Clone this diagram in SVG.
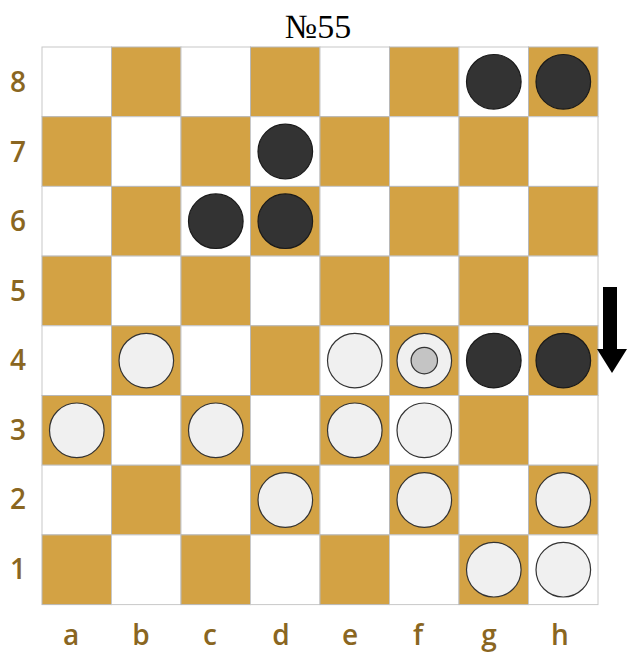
<svg xmlns="http://www.w3.org/2000/svg" width="627" height="653" viewBox="0 0 627 653">
<style>
.l{fill:#ffffff;stroke:#c8c8c8;stroke-width:1}
.d{fill:#D3A244;stroke:#b8b8b8;stroke-width:1}
.b{fill:#333333;stroke:#1a1a1a;stroke-width:1.2}
.w{fill:#f0f0f0;stroke:#333333;stroke-width:1.2}
.i{fill:#c4c4c4;stroke:#333333;stroke-width:1.2}
.lab{font-family:"Open Sans","DejaVu Sans",sans-serif;font-weight:600;font-size:28px;fill:#8A6621;text-anchor:middle}
.t{font-family:"Liberation Serif","Times New Roman",serif;font-size:34px;fill:#000;text-anchor:middle}
</style>
<rect width="627" height="653" fill="#ffffff"/>
<text class="t" x="318" y="38">№55</text>
<g id="board">
<rect class="l" x="42" y="47" width="69.5" height="69.7"/><rect class="d" x="111.5" y="47" width="69.5" height="69.7"/><rect class="l" x="181" y="47" width="69.5" height="69.7"/><rect class="d" x="250.5" y="47" width="69.5" height="69.7"/><rect class="l" x="320" y="47" width="69.5" height="69.7"/><rect class="d" x="389.5" y="47" width="69.5" height="69.7"/><rect class="l" x="459" y="47" width="69.5" height="69.7"/><rect class="d" x="528.5" y="47" width="69.5" height="69.7"/>
<rect class="d" x="42" y="116.7" width="69.5" height="69.7"/><rect class="l" x="111.5" y="116.7" width="69.5" height="69.7"/><rect class="d" x="181" y="116.7" width="69.5" height="69.7"/><rect class="l" x="250.5" y="116.7" width="69.5" height="69.7"/><rect class="d" x="320" y="116.7" width="69.5" height="69.7"/><rect class="l" x="389.5" y="116.7" width="69.5" height="69.7"/><rect class="d" x="459" y="116.7" width="69.5" height="69.7"/><rect class="l" x="528.5" y="116.7" width="69.5" height="69.7"/>
<rect class="l" x="42" y="186.4" width="69.5" height="69.7"/><rect class="d" x="111.5" y="186.4" width="69.5" height="69.7"/><rect class="l" x="181" y="186.4" width="69.5" height="69.7"/><rect class="d" x="250.5" y="186.4" width="69.5" height="69.7"/><rect class="l" x="320" y="186.4" width="69.5" height="69.7"/><rect class="d" x="389.5" y="186.4" width="69.5" height="69.7"/><rect class="l" x="459" y="186.4" width="69.5" height="69.7"/><rect class="d" x="528.5" y="186.4" width="69.5" height="69.7"/>
<rect class="d" x="42" y="256.1" width="69.5" height="69.7"/><rect class="l" x="111.5" y="256.1" width="69.5" height="69.7"/><rect class="d" x="181" y="256.1" width="69.5" height="69.7"/><rect class="l" x="250.5" y="256.1" width="69.5" height="69.7"/><rect class="d" x="320" y="256.1" width="69.5" height="69.7"/><rect class="l" x="389.5" y="256.1" width="69.5" height="69.7"/><rect class="d" x="459" y="256.1" width="69.5" height="69.7"/><rect class="l" x="528.5" y="256.1" width="69.5" height="69.7"/>
<rect class="l" x="42" y="325.8" width="69.5" height="69.7"/><rect class="d" x="111.5" y="325.8" width="69.5" height="69.7"/><rect class="l" x="181" y="325.8" width="69.5" height="69.7"/><rect class="d" x="250.5" y="325.8" width="69.5" height="69.7"/><rect class="l" x="320" y="325.8" width="69.5" height="69.7"/><rect class="d" x="389.5" y="325.8" width="69.5" height="69.7"/><rect class="l" x="459" y="325.8" width="69.5" height="69.7"/><rect class="d" x="528.5" y="325.8" width="69.5" height="69.7"/>
<rect class="d" x="42" y="395.5" width="69.5" height="69.7"/><rect class="l" x="111.5" y="395.5" width="69.5" height="69.7"/><rect class="d" x="181" y="395.5" width="69.5" height="69.7"/><rect class="l" x="250.5" y="395.5" width="69.5" height="69.7"/><rect class="d" x="320" y="395.5" width="69.5" height="69.7"/><rect class="l" x="389.5" y="395.5" width="69.5" height="69.7"/><rect class="d" x="459" y="395.5" width="69.5" height="69.7"/><rect class="l" x="528.5" y="395.5" width="69.5" height="69.7"/>
<rect class="l" x="42" y="465.2" width="69.5" height="69.7"/><rect class="d" x="111.5" y="465.2" width="69.5" height="69.7"/><rect class="l" x="181" y="465.2" width="69.5" height="69.7"/><rect class="d" x="250.5" y="465.2" width="69.5" height="69.7"/><rect class="l" x="320" y="465.2" width="69.5" height="69.7"/><rect class="d" x="389.5" y="465.2" width="69.5" height="69.7"/><rect class="l" x="459" y="465.2" width="69.5" height="69.7"/><rect class="d" x="528.5" y="465.2" width="69.5" height="69.7"/>
<rect class="d" x="42" y="534.9" width="69.5" height="69.7"/><rect class="l" x="111.5" y="534.9" width="69.5" height="69.7"/><rect class="d" x="181" y="534.9" width="69.5" height="69.7"/><rect class="l" x="250.5" y="534.9" width="69.5" height="69.7"/><rect class="d" x="320" y="534.9" width="69.5" height="69.7"/><rect class="l" x="389.5" y="534.9" width="69.5" height="69.7"/><rect class="d" x="459" y="534.9" width="69.5" height="69.7"/><rect class="l" x="528.5" y="534.9" width="69.5" height="69.7"/>
</g>
<g id="labels">
<text class="lab" x="18" y="92">8</text>
<text class="lab" x="18" y="162">7</text>
<text class="lab" x="18" y="231">6</text>
<text class="lab" x="18" y="301">5</text>
<text class="lab" x="18" y="370">4</text>
<text class="lab" x="18" y="440">3</text>
<text class="lab" x="18" y="509">2</text>
<text class="lab" x="18" y="579">1</text>
<text class="lab" x="71" y="645">a</text>
<text class="lab" x="141" y="645">b</text>
<text class="lab" x="210" y="645">c</text>
<text class="lab" x="281" y="645">d</text>
<text class="lab" x="350" y="645">e</text>
<text class="lab" x="418" y="645">f</text>
<text class="lab" x="489" y="645">g</text>
<text class="lab" x="560" y="645">h</text>
</g>
<g id="black-pieces">
<circle class="b" cx="493.8" cy="81.8" r="27.3"/>
<circle class="b" cx="563.3" cy="81.8" r="27.3"/>
<circle class="b" cx="285.3" cy="151.5" r="27.3"/>
<circle class="b" cx="215.8" cy="221.2" r="27.3"/>
<circle class="b" cx="285.3" cy="221.2" r="27.3"/>
<circle class="b" cx="493.8" cy="360.6" r="27.3"/>
<circle class="b" cx="563.3" cy="360.6" r="27.3"/>
</g>
<g id="white-pieces">
<circle class="w" cx="146.3" cy="360.6" r="27.3"/>
<circle class="w" cx="354.8" cy="360.6" r="27.3"/>
<g id="f4-king"><circle class="w" cx="424.3" cy="360.6" r="27.3"/><circle class="i" cx="424.3" cy="360.6" r="13.2"/></g>
<circle class="w" cx="76.8" cy="430.3" r="27.3"/>
<circle class="w" cx="215.8" cy="430.3" r="27.3"/>
<circle class="w" cx="354.8" cy="430.3" r="27.3"/>
<circle class="w" cx="424.3" cy="430.3" r="27.3"/>
<circle class="w" cx="285.3" cy="500" r="27.3"/>
<circle class="w" cx="424.3" cy="500" r="27.3"/>
<circle class="w" cx="563.3" cy="500" r="27.3"/>
<circle class="w" cx="493.8" cy="569.7" r="27.3"/>
<circle class="w" cx="563.3" cy="569.7" r="27.3"/>
</g>
<g id="arrow">
<polygon points="603,287 617,287 617,349 627,349 612,373 597,349 603,349" fill="#000"/>
</g>
</svg>
